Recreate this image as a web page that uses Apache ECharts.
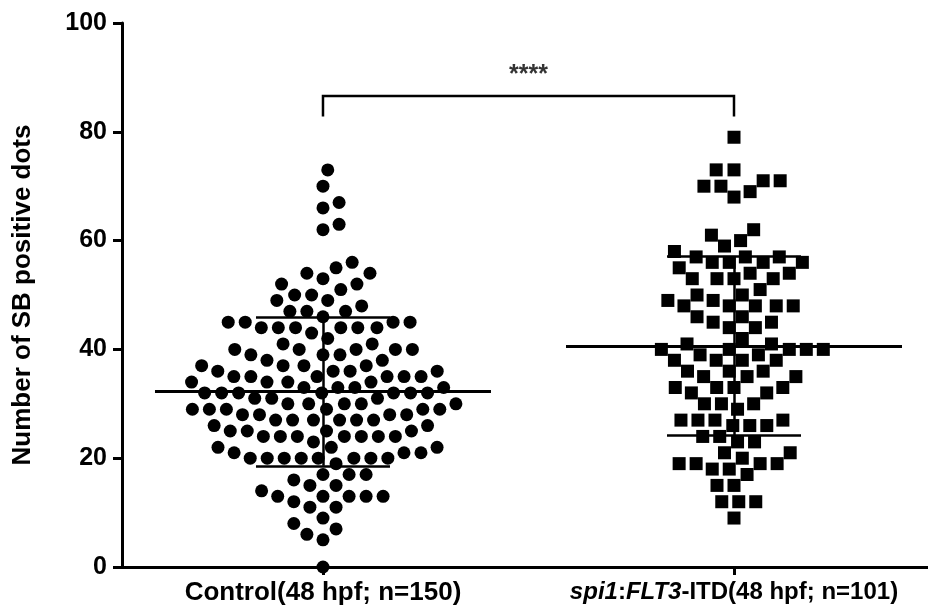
<!DOCTYPE html>
<html><head><meta charset="utf-8">
<script src="https://cdn.jsdelivr.net/npm/echarts@6/dist/echarts.min.js"></script>
<style>html,body{margin:0;padding:0;background:#fff}#c{width:928px;height:613px}</style>
</head><body><div id="c"></div>
<script>
// ---------- data ----------
const categories = ['Control(48 hpf; n=150)', 'spi1:FLT3-ITD(48 hpf; n=101)'];
const categoryPositions = [1, 2];
const controlValues = [73,70,67,66,63,62,56,55,54,54,53,52,52,51,50,50,49,49,48,47,47,47,46,45,45,45,45,44,44,44,44,44,44,43,42,41,41,40,40,40,40,40,39,39,39,38,38,37,37,37,37,36,36,36,36,35,35,35,35,35,35,34,34,34,34,33,33,33,33,32,32,32,32,32,32,32,31,31,31,30,30,30,30,30,29,29,29,29,29,29,28,28,28,28,27,27,27,27,27,27,26,26,25,25,25,25,24,24,24,24,24,24,24,23,22,22,22,21,21,21,20,20,20,20,20,20,20,20,19,17,17,17,16,15,15,14,13,13,13,13,13,12,11,11,9,8,7,6,5,0];
const flt3Values = [79,73,73,71,71,70,70,69,68,62,61,60,59,58,57,57,57,56,56,56,56,55,54,54,53,53,53,53,51,50,50,49,49,48,48,48,48,48,46,46,45,45,44,44,42,41,41,40,40,40,40,40,39,39,38,38,38,38,36,36,36,35,35,35,33,33,33,33,32,32,30,30,30,29,27,27,27,27,26,26,26,24,24,23,23,21,21,20,19,19,19,19,18,18,17,15,15,12,12,12,9];
const meanValues = [32.3, 40.6];
const sdValues = [13.7, 16.45];
const yTicks = [0, 20, 40, 60, 80, 100];
const significance = '****';
const yAxisTitle = 'Number of SB positive dots';

// ---------- chart ----------
const chart = echarts.init(document.getElementById('c'), null, {renderer: 'canvas'});
const FONT = "'Liberation Sans', Arial, sans-serif";

function catLabel(v) {
  if (Math.abs(v - categoryPositions[0]) < 1e-6) return '{c|' + categories[0] + '}';
  if (Math.abs(v - categoryPositions[1]) < 1e-6) {
    const s = categories[1];
    const a = s.split(':');
    const b = a[1].indexOf('-');
    return '{i|' + a[0] + '}{n|:}{i|' + a[1].slice(0, b) + '}{n|' + a[1].slice(b) + '}';
  }
  return '';
}

const baseOption = {
  animation: false,
  backgroundColor: '#fff',
  grid: {left: 122, right: 0, top: 23, bottom: 46, containLabel: false},
  xAxis: {
    type: 'value', min: 0.511, max: 2.472,
    axisLine: {show: true, lineStyle: {color: '#000', width: 3}},
    axisTick: {show: true, customValues: categoryPositions, length: 8, lineStyle: {color: '#000', width: 3}},
    axisLabel: {
      show: true, customValues: categoryPositions, margin: 13,
      formatter: catLabel,
      rich: {
        c: {fontFamily: FONT, fontWeight: 'bold', fontSize: 26, color: '#000'},
        n: {fontFamily: FONT, fontWeight: 'bold', fontSize: 24, color: '#000'},
        i: {fontFamily: FONT, fontWeight: 'bold', fontStyle: 'italic', fontSize: 24, color: '#000'}
      }
    },
    splitLine: {show: false}
  },
  yAxis: {
    type: 'value', min: yTicks[0], max: yTicks[yTicks.length - 1], interval: yTicks[1] - yTicks[0],
    name: yAxisTitle, nameLocation: 'middle', nameGap: 86,
    nameTextStyle: {fontFamily: FONT, fontWeight: 'bold', fontSize: 26, color: '#000'},
    axisLine: {show: true, lineStyle: {color: '#000', width: 3}},
    axisTick: {show: true, length: 9, lineStyle: {color: '#000', width: 3}},
    axisLabel: {fontFamily: FONT, fontWeight: 'bold', fontSize: 25, color: '#000', margin: 15},
    splitLine: {show: false}
  },
  series: []
};
chart.setOption(baseOption);

// pixel scales from the library's own axes
const p0 = chart.convertToPixel({gridIndex: 0}, [1, 0]);
const p1 = chart.convertToPixel({gridIndex: 0}, [2, 100]);
const pxPerX = p1[0] - p0[0];
const yToPx = v => chart.convertToPixel({gridIndex: 0}, [1, v])[1];

// beeswarm layout (computed from the values, not typed)
function swarmOffsets(values, D) {
  const idx = values.map((v, i) => i).sort((a, b) => values[a] - values[b]);
  const placed = [];
  const xs = new Array(values.length);
  let flip = 1;
  for (const i of idx) {
    const y = yToPx(values[i]);
    const near = placed.filter(p => Math.abs(p.y - y) < D);
    const cands = [0];
    near.forEach(p => {
      const dx = Math.sqrt(D * D - (p.y - y) * (p.y - y));
      cands.push(p.x + dx, p.x - dx);
    });
    cands.sort((a, b) => (Math.abs(a) - Math.abs(b)) || (a - b) * flip);
    let best = 0;
    for (const c of cands) {
      if (near.every(p => (p.x - c) * (p.x - c) + (p.y - y) * (p.y - y) >= D * D - 0.01)) { best = c; break; }
    }
    flip = -flip;
    placed.push({x: best, y});
    xs[i] = best;
  }
  return xs;
}

function swarmData(values, center, D) {
  const xs = swarmOffsets(values, D);
  return values.map((v, i) => [center + xs[i] / pxPerX, v]);
}

const MEAN_HALF = 168 / pxPerX;
const CAP_HALF = 67 / pxPerX;

const statLines = [];
categoryPositions.forEach((c, k) => {
  const m = meanValues[k], s = sdValues[k];
  statLines.push({coords: [[c - MEAN_HALF, m], [c + MEAN_HALF, m]], lineStyle: {width: 3}});
  statLines.push({coords: [[c - CAP_HALF, m + s], [c + CAP_HALF, m + s]], lineStyle: {width: 2.5}});
  statLines.push({coords: [[c - CAP_HALF, m - s], [c + CAP_HALF, m - s]], lineStyle: {width: 2.5}});
  statLines.push({coords: [[c, m - s], [c, m + s]], lineStyle: {width: 2.5}});
});

const bracketTop = 86.6, bracketLeg = 82.8;

chart.setOption({
  series: [
    {type: 'scatter', name: categories[0], symbol: 'circle', symbolSize: 13,
     itemStyle: {color: '#000', opacity: 1}, data: swarmData(controlValues, categoryPositions[0], 17), z: 3},
    {type: 'scatter', name: categories[1], symbol: 'rect', symbolSize: 13,
     itemStyle: {color: '#000', opacity: 1}, data: swarmData(flt3Values, categoryPositions[1], 17), z: 3},
    {type: 'lines', coordinateSystem: 'cartesian2d', polyline: false, silent: true,
     lineStyle: {color: '#000', width: 3, opacity: 1}, data: statLines, z: 4},
    {type: 'lines', coordinateSystem: 'cartesian2d', polyline: true, silent: true,
     lineStyle: {color: '#000', width: 2.5, opacity: 1},
     data: [{coords: [[categoryPositions[0], bracketLeg], [categoryPositions[0], bracketTop],
                      [categoryPositions[1], bracketTop], [categoryPositions[1], bracketLeg]]}], z: 4},
    {type: 'scatter', symbolSize: 0, silent: true,
     data: [[(categoryPositions[0] + categoryPositions[1]) / 2, bracketTop]],
     label: {show: true, position: 'top', distance: 8, formatter: significance,
             fontFamily: FONT, fontWeight: 'bold', fontSize: 25, color: '#000'}, z: 5}
  ]
});
</script>
</body></html>
